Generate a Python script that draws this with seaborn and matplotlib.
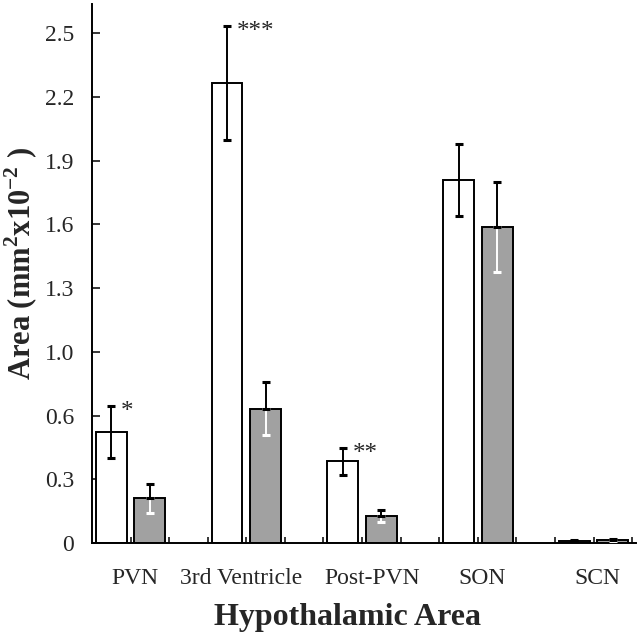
import numpy as np
import pandas as pd
import seaborn as sns
from matplotlib import pyplot as plt
from matplotlib.transforms import ScaledTranslation

areas = ['PVN', '3rd Ventricle', 'Post-PVN', 'SON', 'SCN']
white_vals = [0.552, 2.291, 0.407, 1.809, 0.012]
white_err = [0.130, 0.285, 0.067, 0.180, 0.003]
grey_vals = [0.224, 0.670, 0.136, 1.575, 0.015]
grey_err = [0.072, 0.134, 0.029, 0.222, 0.003]
stars = ['*', '***', '**', '', '']
ytick_labels = ['0', '0.3', '0.6', '1.0', '1.3', '1.6', '1.9', '2.2', '2.5']
tick_step = 0.3175

sns.set_style('white')
plt.rcParams['font.family'] = ['Liberation Serif', 'DejaVu Serif']
plt.rcParams['mathtext.fontset'] = 'custom'
plt.rcParams['mathtext.rm'] = 'Liberation Serif'
plt.rcParams['mathtext.bf'] = 'Liberation Serif:bold'

# each area gets 3 slots: white bar, grey bar, gap
rows = []
for g, name in enumerate(areas):
    rows.append({'pos': 3 * g + 0.5, 'value': white_vals[g], 'err': white_err[g], 'kind': 'white'})
    rows.append({'pos': 3 * g + 1.5, 'value': grey_vals[g], 'err': grey_err[g], 'kind': 'grey'})
df = pd.DataFrame(rows)

fig = plt.figure(figsize=(6.38, 6.39), dpi=100)
ax = fig.add_axes([0.1442, 0.1502, 0.8527, 0.8435])

sns.barplot(data=df, x='pos', y='value', hue='kind', native_scale=True, dodge=False,
            palette={'white': 'white', 'grey': '#a1a1a1'}, errorbar=None, width=0.8,
            edgecolor='black', linewidth=1.4, legend=False, ax=ax)

w = df[df.kind == 'white']
gr = df[df.kind == 'grey']
ax.errorbar(w.pos, w.value, yerr=w.err, fmt='none', ecolor='black', elinewidth=1.4,
            capsize=2.6, capthick=2.2, zorder=5)
ax.errorbar(gr.pos, gr.value, yerr=[gr.err, np.zeros(len(gr))], fmt='none', ecolor='white',
            elinewidth=1.4, capsize=2.6, capthick=2.2, zorder=5)
ax.errorbar(gr.pos, gr.value, yerr=[np.zeros(len(gr)), gr.err], fmt='none', ecolor='black',
            elinewidth=1.4, capsize=2.6, capthick=2.2, zorder=6)

for (p, v, e), s in zip(w[['pos', 'value', 'err']].values, stars):
    if s:
        ax.text(p + 0.25, v + e - 0.06, s, fontsize=18, ha='left', va='baseline')

ax.set_xlim(0, 14.1)
ax.set_ylim(0, 2.686)
ax.set_yticks(np.arange(len(ytick_labels)) * tick_step)
ax.set_yticklabels(ytick_labels, fontsize=17)
ax.set_xticks([3 * g + 1 for g in range(len(areas))])
ax.set_xticklabels(areas, fontsize=17)
ax.set_xticks([k for k in range(1, 15) if (k - 1) % 3 != 0], minor=True)
ax.tick_params(axis='x', which='both', direction='in', length=4, width=1.3, pad=18, bottom=True)
ax.tick_params(axis='y', direction='in', length=6, width=1.3, pad=13, left=True)

# small horizontal nudges of the category labels (points)
nudges = [3, -4, 7, 3, 3]
for lbl, dx in zip(ax.get_xticklabels(), nudges):
    lbl.set_transform(lbl.get_transform() + ScaledTranslation(dx / 72, 0, fig.dpi_scale_trans))

for side in ['top', 'right']:
    ax.spines[side].set_visible(False)
for side in ['left', 'bottom']:
    ax.spines[side].set_linewidth(1.4)
    ax.spines[side].set_color('black')

ax.set_xlabel('Hypothalamic Area', fontsize=23, fontweight='bold')
ax.xaxis.set_label_coords(0.47, -0.112)
ax.set_ylabel(r'Area (mm$^{\mathbf{2}}$x10$^{\mathbf{-2}}$ )', fontsize=22, fontweight='bold')
ax.yaxis.set_label_coords(-0.096, 0.518)

plt.savefig('out.png', dpi=100)
